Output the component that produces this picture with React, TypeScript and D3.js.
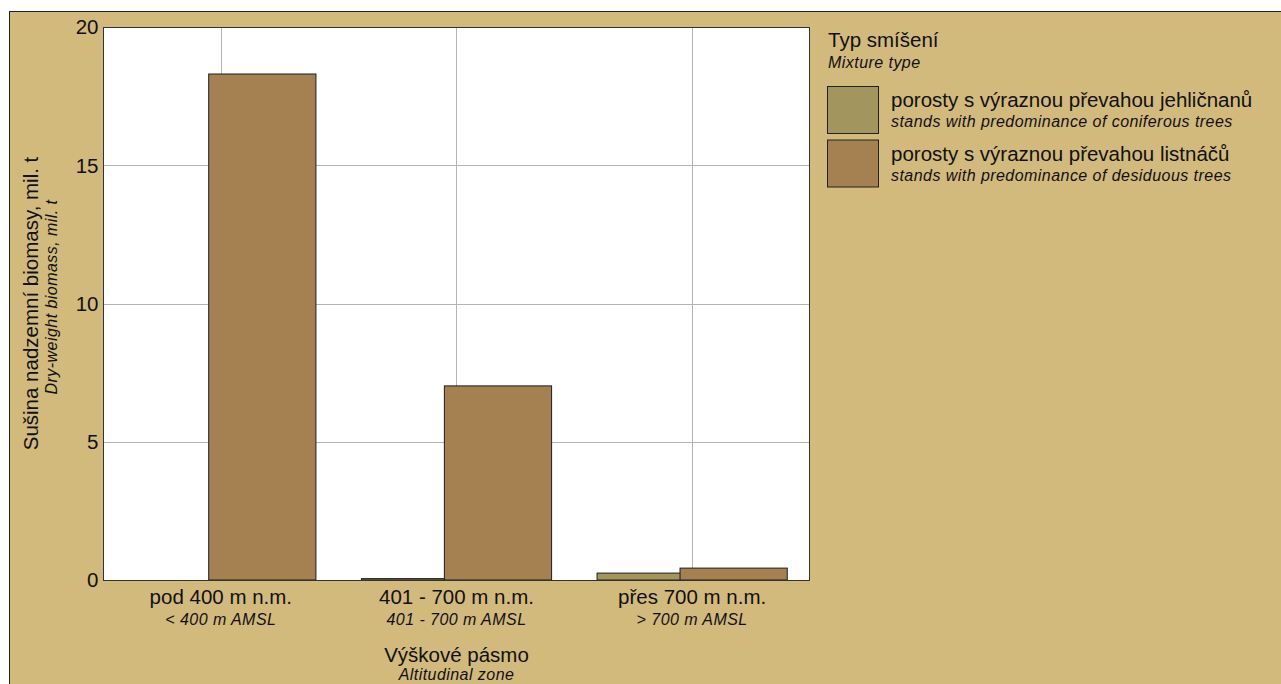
import React from "react";
import * as d3 from "d3";

const categories = ["pod 400 m n.m.", "401 - 700 m n.m.", "přes 700 m n.m."];
const categoriesEn = ["< 400 m AMSL", "401 - 700 m AMSL", "> 700 m AMSL"];
const coniferous = [0, 0.05, 0.25];
const deciduous = [18.3, 7.02, 0.43];
const yTicks = [0, 5, 10, 15, 20];
const seriesNames = ["porosty s výraznou převahou jehličnanů", "porosty s výraznou převahou listnáčů"];
const seriesNamesEn = ["stands with predominance of coniferous trees", "stands with predominance of desiduous trees"];
const seriesColors = ["#a3955e", "#a58050"];

const W = 1281, H = 684;
const plot = { left: 103, top: 27, right: 810, bottom: 580 };
const FONT = "'Liberation Sans', Arial, sans-serif";
const MAIN = 20.5;
const SUB = 16;
const LS = 0.45;

export default function App() {
  const x = d3.scaleBand<string>().domain(categories).range([plot.left, plot.right]).padding(0);
  const y = d3.scaleLinear().domain([0, 20]).range([plot.bottom, plot.top]);
  const bw = x.bandwidth();
  const barW = bw * 0.455;
  const off = bw * 0.176;
  const series = [coniferous, deciduous];

  return (
    <svg width={W} height={H} style={{ position: "absolute", left: 0, top: 0, background: "#fff" }} fontFamily={FONT}>
      <rect x={9} y={11} width={W - 9} height={H - 11} fill="#d2ba7d" />
      <line x1={9} y1={11.5} x2={W} y2={11.5} stroke="#222" />
      <line x1={9.5} y1={11} x2={9.5} y2={H} stroke="#222" />

      <rect x={plot.left} y={plot.top} width={plot.right - plot.left} height={plot.bottom - plot.top} fill="#fff" />
      {yTicks.map((t) => (
        <line key={"gy" + t} x1={plot.left} x2={plot.right} y1={Math.round(y(t)) + 0.5} y2={Math.round(y(t)) + 0.5} stroke="#b4b4b4" />
      ))}
      {categories.map((c) => {
        const cx = Math.round(x(c)! + bw / 2) + 0.5;
        return <line key={"gx" + c} x1={cx} x2={cx} y1={plot.top} y2={plot.bottom} stroke="#b4b4b4" />;
      })}

      {series.map((vals, si) =>
        categories.map((c, ci) => {
          const v = vals[ci];
          if (v <= 0) return null;
          const cx = x(c)! + bw / 2 + (si === 0 ? -off : off);
          const y0 = y(v);
          return (
            <rect key={si + "-" + ci} x={cx - barW / 2} y={y0} width={barW} height={Math.max(1, y(0) - y0)}
              fill={seriesColors[si]} stroke="#1e1e1e" strokeWidth={1} />
          );
        })
      )}

      <rect x={plot.left + 0.5} y={plot.top + 0.5} width={plot.right - plot.left - 1} height={plot.bottom - plot.top} fill="none" stroke="#333" />

      {yTicks.map((t) => (
        <text key={"ty" + t} x={98.5} y={y(t)} dy="0.36em" textAnchor="end" fontSize={MAIN} fill="#111">{t}</text>
      ))}

      {categories.map((c, i) => {
        const cx = x(c)! + bw / 2;
        return (
          <g key={"xl" + c}>
            <text x={cx} y={604} textAnchor="middle" fontSize={MAIN} fill="#111">{c}</text>
            <text x={cx} y={625} textAnchor="middle" fontSize={SUB} fontStyle="italic" letterSpacing={LS} fill="#111">{categoriesEn[i]}</text>
          </g>
        );
      })}

      <text x={(plot.left + plot.right) / 2} y={662} textAnchor="middle" fontSize={MAIN} fill="#111">Výškové pásmo</text>
      <text x={(plot.left + plot.right) / 2} y={680} textAnchor="middle" fontSize={SUB} fontStyle="italic" letterSpacing={LS} fill="#111">Altitudinal zone</text>

      <g transform={`translate(38, ${(plot.top + plot.bottom) / 2}) rotate(-90)`}>
        <text textAnchor="middle" fontSize={MAIN} fill="#111">Sušina nadzemní biomasy, mil. t</text>
      </g>
      <g transform={`translate(57, 297) rotate(-90)`}>
        <text textAnchor="middle" fontSize={SUB} fontStyle="italic" letterSpacing={LS} fill="#111">Dry-weight biomass, mil. t</text>
      </g>

      <text x={828} y={47} fontSize={MAIN} fill="#111">Typ smíšení</text>
      <text x={828} y={68} fontSize={SUB} fontStyle="italic" letterSpacing={LS} fill="#111">Mixture type</text>
      {seriesNames.map((n, i) => (
        <g key={"lg" + i} transform={`translate(0, ${i * 53.5})`}>
          <rect x={827.5} y={86.5} width={51} height={47} fill={seriesColors[i]} stroke="#222" />
          <text x={891} y={107} fontSize={MAIN} fill="#111">{n}</text>
          <text x={891} y={127} fontSize={SUB} fontStyle="italic" letterSpacing={LS} fill="#111">{seriesNamesEn[i]}</text>
        </g>
      ))}
    </svg>
  );
}
